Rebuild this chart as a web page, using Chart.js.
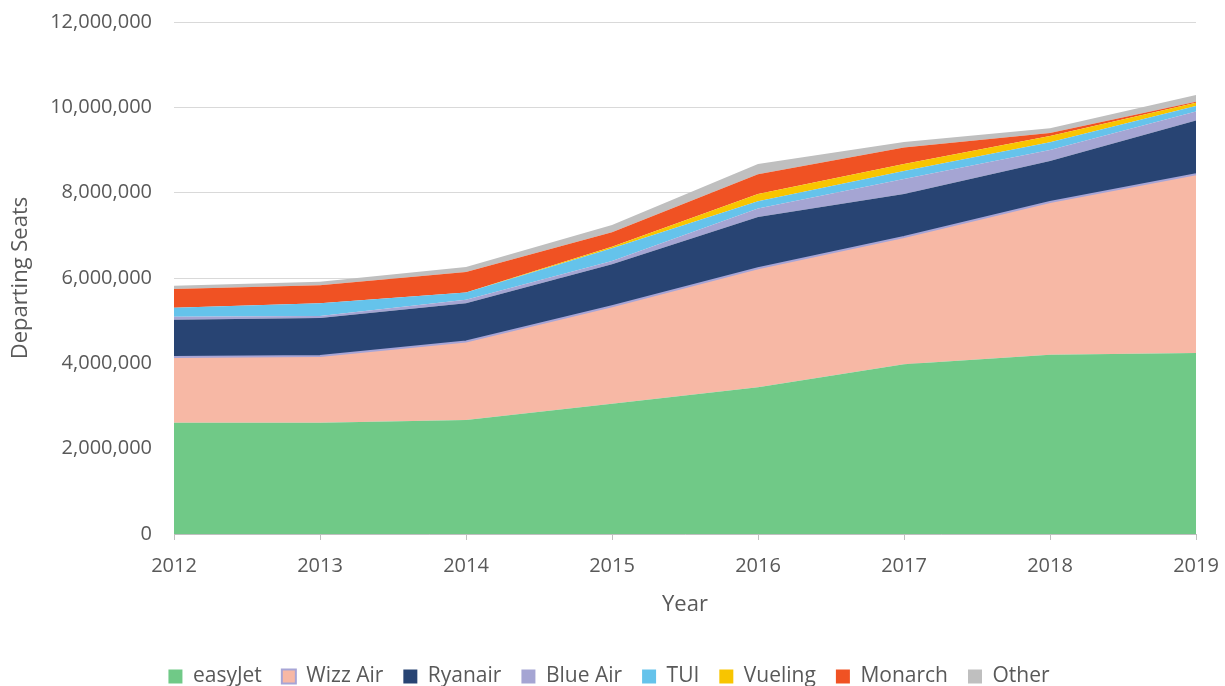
<!DOCTYPE html>
<html>
<head>
<meta charset="utf-8">
<script src="https://cdn.jsdelivr.net/npm/chart.js@4"></script>
<style>
  html, body { margin: 0; padding: 0; background: #fff; }
  #wrap { width: 1225px; height: 686px; position: relative; }
</style>
</head>
<body>
<div id="wrap"><canvas id="seatsChart"></canvas></div>
<script>
/* ---------------------------
   Data (departing seats per airline)
--------------------------- */
const years = ["2012", "2013", "2014", "2015", "2016", "2017", "2018", "2019"];

const easyJet = [2610000, 2610000, 2670000, 3050000, 3440000, 3980000, 4200000, 4240000];
const wizzAir = [1540000, 1560000, 1840000, 2290000, 2790000, 2980000, 3580000, 4190000];
const ryanair = [870000, 890000, 900000, 980000, 1200000, 1010000, 960000, 1260000];
const blueAir = [70000, 50000, 80000, 80000, 200000, 350000, 260000, 210000];
const tui     = [210000, 300000, 170000, 300000, 170000, 190000, 180000, 130000];
const vueling = [0, 0, 0, 30000, 170000, 160000, 150000, 80000];
const monarch = [440000, 420000, 480000, 340000, 460000, 390000, 70000, 20000];
const other   = [80000, 80000, 120000, 170000, 240000, 130000, 110000, 160000];

const yTicks = [0, 2000000, 4000000, 6000000, 8000000, 10000000, 12000000];

const TEXT = "#595959";
const FONT = "'Open Sans', 'DejaVu Sans', sans-serif";

function series(label, data, color, extra) {
  return Object.assign({
    label,
    data,
    backgroundColor: color,
    borderColor: color,
    borderWidth: 0,
    pointRadius: 0,
    tension: 0,
    fill: "-1"
  }, extra || {});
}

const datasets = [
  series("easyJet", easyJet, "#70C987", { fill: "origin" }),
  series("Wizz Air", wizzAir, "#F7B8A5", { borderColor: "#A7A5D6", borderWidth: 2 }),
  series("Ryanair", ryanair, "#284473"),
  series("Blue Air", blueAir, "#A5A5D3"),
  series("TUI", tui, "#65C3EB"),
  series("Vueling", vueling, "#F8C500"),
  series("Monarch", monarch, "#F05223"),
  series("Other", other, "#BFBFBF")
];

const ctx = document.getElementById("seatsChart").getContext("2d");

new Chart(ctx, {
  type: "line",
  data: { labels: years, datasets },
  options: {
    responsive: true,
    maintainAspectRatio: false,
    animation: false,
    layout: { padding: { left: 22, right: 29, top: 22, bottom: -11 } },
    plugins: {
      tooltip: { enabled: false },
      legend: {
        position: "bottom",
        labels: {
          color: TEXT,
          font: { family: FONT, size: 21 },
          boxWidth: 14,
          boxHeight: 14,
          padding: 20
        }
      }
    },
    scales: {
      x: {
        type: "category",
        offset: false,
        grid: {
          drawOnChartArea: false,
          drawTicks: true,
          tickLength: 6,
          color: "#BFBFBF"
        },
        border: { color: "#BFBFBF", width: 1 },
        ticks: {
          color: TEXT,
          font: { family: FONT, size: 20 },
          padding: 14,
          maxRotation: 0
        },
        title: {
          display: true,
          text: "Year",
          color: TEXT,
          font: { family: FONT, size: 22 },
          padding: { top: 4, bottom: 28 }
        },
        afterFit(scale) {
          scale.height = 112;
          scale.paddingLeft = 0;
          scale.paddingRight = 0;
        }
      },
      y: {
        stacked: true,
        min: 0,
        max: 12000000,
        afterBuildTicks(scale) { scale.ticks = yTicks.map(v => ({ value: v })); },
        grid: { color: "#D9D9D9", drawTicks: false },
        border: { display: false },
        ticks: {
          color: TEXT,
          font: { family: FONT, size: 20 },
          padding: 22,
          callback: v => Number(v).toLocaleString("en-US")
        },
        title: {
          display: true,
          text: "Departing Seats",
          color: TEXT,
          font: { family: FONT, size: 22 },
          padding: { top: -14, bottom: 0 }
        },
        afterFit(scale) {
          scale.width = 152;
          scale.paddingTop = 0;
          scale.paddingBottom = 0;
        }
      }
    }
  }
});
</script>
</body>
</html>
